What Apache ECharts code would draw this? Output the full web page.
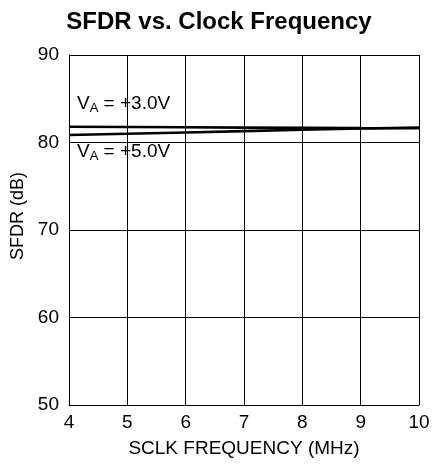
<!DOCTYPE html>
<html>
<head>
<meta charset="utf-8">
<style>
    html, body { margin: 0; padding: 0; background: #fff; }
    #chart { width: 433px; height: 470px; }
</style>
<script src="https://cdn.jsdelivr.net/npm/echarts@6/dist/echarts.min.js"></script>
</head>
<body>
<div id="chart"></div>
<script>
// 时钟频率 (MHz)
const freq = [4, 5, 6, 7, 8, 9, 10];
// SFDR (dB)
const sfdr3v = [81.8, 81.77, 81.74, 81.7, 81.67, 81.64, 81.62];
const sfdr5v = [80.85, 81.0, 81.15, 81.3, 81.45, 81.6, 81.72];

const font = 'Liberation Sans, Arial, Helvetica, sans-serif';
const rich = {
    v: { fontFamily: font, fontSize: 19, fill: '#000' },
    s: { fontFamily: font, fontSize: 13, fill: '#000', padding: [9, 0, 0, 0] }
};

let myChart = echarts.init(document.getElementById('chart'));
myChart.setOption({
    animation: false,
    title: {
        text: 'SFDR vs. Clock Frequency',
        left: 214,
        textAlign: 'center',
        top: 5,
        textStyle: { fontFamily: font, fontSize: 24, fontWeight: 'bold', color: '#000' }
    },
    grid: { left: 69, right: 14, top: 55, bottom: 65 },
    xAxis: {
        type: 'value',
        min: 4, max: 10, interval: 1,
        name: 'SCLK FREQUENCY (MHz)',
        nameLocation: 'middle',
        nameGap: 34,
        nameTextStyle: { fontFamily: font, fontSize: 19, color: '#000' },
        axisLine: { lineStyle: { color: '#000', width: 1 } },
        axisTick: { show: false },
        axisLabel: { fontFamily: font, fontSize: 19, color: '#000', margin: 8 },
        splitLine: { show: true, lineStyle: { color: '#000', width: 1 } }
    },
    yAxis: {
        type: 'value',
        min: 50, max: 90, interval: 10,
        name: 'SFDR (dB)',
        nameLocation: 'middle',
        nameGap: 41,
        nameTextStyle: { fontFamily: font, fontSize: 18, color: '#000', padding: [0, 0, 0, 28] },
        axisLine: { show: true, lineStyle: { color: '#000', width: 1 } },
        axisTick: { show: false },
        axisLabel: { fontFamily: font, fontSize: 19, color: '#000', margin: 10, padding: [6, 0, 0, 0] },
        splitLine: { show: true, lineStyle: { color: '#000', width: 1 } }
    },
    series: [{
        name: 'VA = +3.0V',
        type: 'line',
        data: freq.map((f, i) => [f, sfdr3v[i]]),
        symbol: 'none',
        lineStyle: { color: '#000', width: 2.6 }
    }, {
        name: 'VA = +5.0V',
        type: 'line',
        data: freq.map((f, i) => [f, sfdr5v[i]]),
        symbol: 'none',
        lineStyle: { color: '#000', width: 2.6 }
    }],
    graphic: [{
        type: 'text',
        left: 77, top: 94,
        z: 10,
        style: { text: '{v|V}{s|A}{v| = +3.0V}', rich: rich }
    }, {
        type: 'text',
        left: 77, top: 142,
        z: 10,
        style: { text: '{v|V}{s|A}{v| = +5.0V}', rich: rich }
    }]
});
</script>
</body>
</html>
